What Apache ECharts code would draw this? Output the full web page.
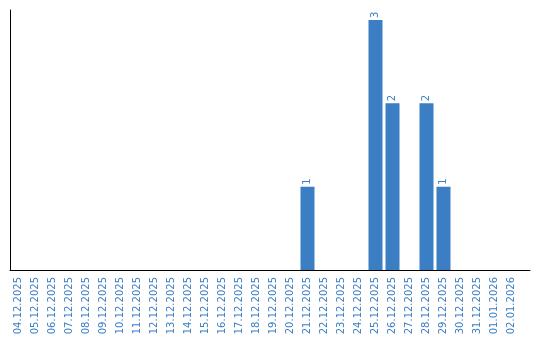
<!DOCTYPE html>
<html><head><meta charset="utf-8">
<script src="https://cdn.jsdelivr.net/npm/echarts@6/dist/echarts.min.js"></script>
<style>html,body{margin:0;padding:0;background:#fff}#c{width:540px;height:340px}</style>
</head><body><div id="c"></div>
<script>
var categories = ["04.12.2025","05.12.2025","06.12.2025","07.12.2025","08.12.2025","09.12.2025","10.12.2025","11.12.2025","12.12.2025","13.12.2025","14.12.2025","15.12.2025","16.12.2025","17.12.2025","18.12.2025","19.12.2025","20.12.2025","21.12.2025","22.12.2025","23.12.2025","24.12.2025","25.12.2025","26.12.2025","27.12.2025","28.12.2025","29.12.2025","30.12.2025","31.12.2025","01.01.2026","02.01.2026"];
var counts = [0,0,0,0,0,0,0,0,0,0,0,0,0,0,0,0,0,1,0,0,0,3,2,0,2,1,0,0,0,0];
var barColor = "#3b7ec3";
var chart = echarts.init(document.getElementById('c'), null, {renderer:'canvas'});
chart.setOption({
  animation:false,
  grid:[{left:10, top:10, width:510, height:260},{left:10, top:10, width:520, height:260}],
  xAxis:[{
    type:'category', data:categories, gridIndex:0,
    axisLine:{show:false}, axisTick:{show:false},
    axisLabel:{rotate:90, interval:0, margin:7, color:barColor, fontFamily:'DejaVu Sans', fontSize:10}
  },{
    type:'value', gridIndex:1, min:0, max:1,
    axisLine:{show:true, onZero:false, lineStyle:{color:'#000', width:1}},
    axisTick:{show:false}, axisLabel:{show:false}, splitLine:{show:false}
  }],
  yAxis:[{
    type:'value', gridIndex:0, min:0, max:3.12,
    axisLine:{show:true, lineStyle:{color:'#000', width:1}},
    axisTick:{show:false}, axisLabel:{show:false}, splitLine:{show:false}
  },{
    type:'value', gridIndex:1, min:0, max:1, show:false
  }],
  series:[{
    type:'bar', data:counts.map(function(v){return v>0?v:null;}), xAxisIndex:0, yAxisIndex:0,
    barWidth:14, itemStyle:{color:barColor},
    label:{show:true, position:'top', rotate:90, align:'left', verticalAlign:'middle', distance:2,
      color:barColor, fontFamily:'DejaVu Sans', fontSize:10}
  }]
});
</script></body></html>
